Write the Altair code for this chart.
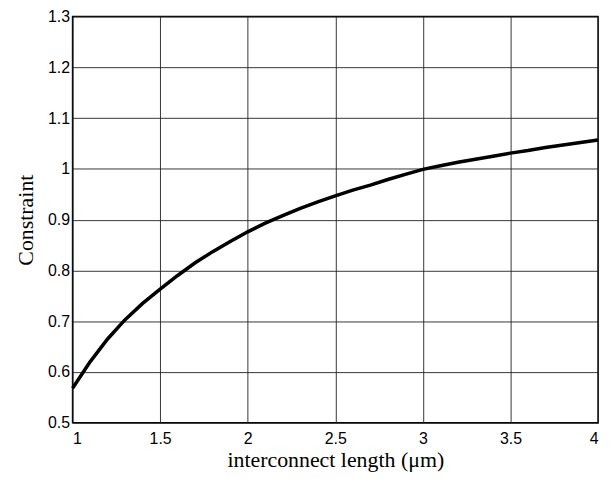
import altair as alt
import pandas as pd

length_um = [1.0, 1.1, 1.2, 1.3, 1.4, 1.5, 1.6, 1.7, 1.8, 1.9, 2.0, 2.1, 2.2, 2.3, 2.4, 2.5,
             2.6, 2.7, 2.8, 2.9, 3.0, 3.1, 3.2, 3.3, 3.4, 3.5, 3.6, 3.7, 3.8, 3.9, 4.0]
constraint = [0.568, 0.620, 0.665, 0.703, 0.735, 0.763, 0.790, 0.815, 0.837, 0.857, 0.876,
              0.893, 0.908, 0.922, 0.935, 0.947, 0.958, 0.968, 0.979, 0.989, 0.999,
              1.006, 1.013, 1.019, 1.025, 1.031, 1.036, 1.042, 1.047, 1.052, 1.057]
x_ticks = [1, 1.5, 2, 2.5, 3, 3.5, 4]
y_ticks = [0.5, 0.6, 0.7, 0.8, 0.9, 1.0, 1.1, 1.2, 1.3]

df = pd.DataFrame({"x": length_um, "y": constraint})

chart = alt.Chart(df).mark_line(color="black", strokeWidth=3.5).encode(
    x=alt.X("x:Q", scale=alt.Scale(domain=[1, 4], nice=False, zero=False),
            axis=alt.Axis(values=x_ticks, title="interconnect length (\u03bcm)",
                          labelExpr="'' + datum.value")),
    y=alt.Y("y:Q", scale=alt.Scale(domain=[0.5, 1.3], nice=False, zero=False),
            axis=alt.Axis(values=y_ticks, title="Constraint",
                          labelExpr="'' + datum.value")),
).properties(
    width=529, height=409,
    background="white",
    autosize=alt.AutoSizeParams(type="none"),
    padding={"left": 65, "top": 7, "right": 5, "bottom": 50},
).configure_view(
    stroke="black", strokeWidth=1.5
).configure_axis(
    grid=True, gridColor="#222222", gridWidth=1, gridOpacity=0.9,
    domain=False, ticks=False,
    labelFont="Liberation Sans", labelFontSize=16, labelColor="black",
    titleFont="Liberation Serif", titleFontSize=22, titleFontWeight="normal", titleColor="black",
).configure_axisX(
    labelPadding=8, titlePadding=3
).configure_axisY(
    labelPadding=3, titlePadding=10
)

chart.save("out.html", embed_options={"renderer": "svg", "actions": False})
